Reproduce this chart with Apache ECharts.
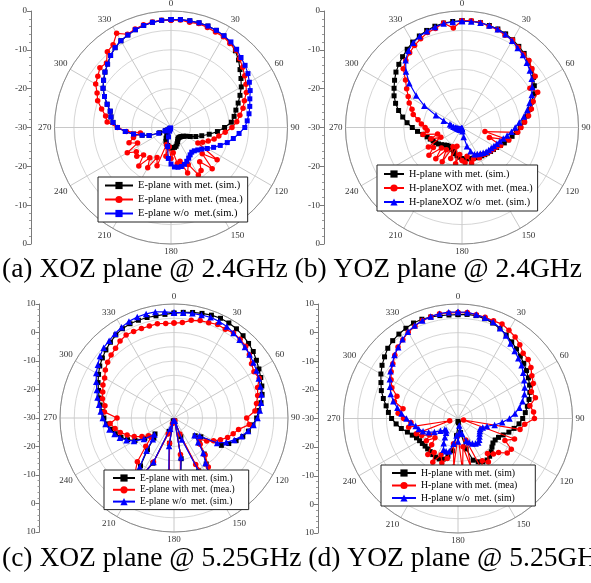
<!DOCTYPE html>
<html><head><meta charset="utf-8">
<script src="https://cdn.jsdelivr.net/npm/echarts@6/dist/echarts.min.js"></script>
<style>html,body{margin:0;padding:0;background:#fff}#c{width:591px;height:583px}</style>
</head><body><div id="c"></div>
<script>
// ---- data (dB vs angle in degrees) ----
const angles = [0,5,10,15,20,25,30,35,40,45,50,55,60,65,70,75,80,85,90,95,100,105,110,115,120,125,130,135,140,145,150,155,160,165,170,175,180,185,190,195,200,205,210,215,220,225,230,235,240,245,250,255,260,265,270,275,280,285,290,295,300,305,310,315,320,325,330,335,340,345,350,355];
const angleTicks = [0,30,60,90,120,150,180,210,240,270,300,330];

// (a) XOZ @ 2.4 GHz
const aBlack = [-2.2,-2.1,-2.1,-2.1,-2.2,-2.4,-2.8,-3.3,-4.2,-5.4,-6.8,-8.0,-9.1,-10.4,-11.6,-12.7,-13.5,-14.4,-16.2,-18.0,-20.0,-21.8,-23.2,-24.5,-25.5,-26.1,-26.4,-26.6,-26.7,-26.7,-26.5,-26.0,-25.5,-25.0,-24.8,-24.7,-24.7,-24.9,-25.3,-25.6,-26.2,-27.0,-27.8,-28.5,-29.2,-29.5,-29.3,-29.0,-28.4,-26.8,-24.0,-22.3,-20.2,-18.2,-16.2,-15.0,-14.3,-13.8,-12.5,-11.1,-9.8,-8.8,-7.8,-6.9,-5.8,-4.9,-4.2,-3.7,-3.2,-2.8,-2.5,-2.3];
const aRed = [-2.4,-2.2,-2.5,-2.3,-2.6,-2.9,-3.0,-3.6,-4.0,-5.0,-5.9,-6.8,-7.7,-8.6,-9.9,-10.8,-12.0,-13.0,-14.3,-16.0,-17.5,-18.5,-19.8,-21.0,-22.0,-15.5,-19.5,-15.0,-18.5,-16.5,-15.9,-19.5,-17.5,-21.0,-20.6,-23.5,-22.0,-25.0,-22.5,-25.5,-19.5,-21.5,-18.0,-20.5,-17.1,-20.0,-18.5,-19.1,-17.0,-20.5,-18.5,-20.0,-22.0,-18.5,-16.2,-13.5,-12.9,-11.5,-9.9,-9.0,-7.6,-7.0,-6.1,-6.5,-4.5,-4.0,-2.0,-3.5,-3.0,-2.6,-2.4,-2.3];
const aBlue = [-2.2,-2.1,-2.1,-2.1,-2.2,-2.4,-2.7,-3.1,-3.7,-4.5,-5.1,-5.8,-6.7,-7.5,-8.4,-9.0,-9.6,-10.3,-11.0,-12.4,-13.7,-15.0,-16.5,-17.9,-19.2,-20.3,-21.0,-21.5,-21.7,-21.4,-20.9,-20.4,-19.9,-19.6,-19.6,-19.8,-20.6,-22.0,-25.0,-27.5,-29.0,-29.5,-29.8,-29.8,-29.7,-29.5,-29.2,-28.8,-28.2,-26.5,-24.0,-22.3,-20.2,-18.2,-16.2,-15.0,-14.3,-13.8,-12.5,-11.1,-9.8,-8.8,-7.8,-6.9,-5.8,-4.9,-4.2,-3.7,-3.2,-2.8,-2.5,-2.3];

// (b) YOZ @ 2.4 GHz
const bBlack = [-2.5,-2.5,-2.6,-2.8,-3.0,-3.4,-3.9,-4.5,-5.1,-5.8,-6.6,-7.5,-8.5,-9.6,-10.9,-12.0,-13.0,-14.0,-15.0,-15.9,-16.9,-17.7,-18.4,-19.1,-19.7,-20.1,-20.4,-20.7,-20.9,-21.1,-21.2,-21.4,-21.6,-21.7,-21.8,-21.8,-22.0,-22.3,-22.6,-23.0,-23.5,-23.8,-24.0,-24.1,-24.0,-23.6,-23.1,-22.6,-22.2,-21.8,-21.3,-20.7,-19.8,-18.5,-17.2,-15.8,-14.5,-13.1,-11.8,-10.7,-9.8,-8.8,-7.8,-7.0,-6.2,-5.4,-4.6,-4.0,-3.4,-3.0,-2.7,-2.6];
const bRed = [-2.5,-2.4,-2.6,-3.0,-3.2,-3.8,-4.0,-4.8,-5.4,-5.6,-6.5,-7.0,-9.8,-8.5,-10.5,-11.5,-12.6,-13.8,-14.8,-15.6,-24.0,-17.5,-22.5,-19.0,-19.8,-20.2,-20.5,-20.8,-21.0,-21.5,-21.0,-22.0,-21.4,-20.5,-22.5,-20.9,-21.5,-23.0,-20.5,-25.0,-21.5,-24.5,-19.8,-23.0,-19.5,-22.5,-18.9,-21.0,-20.0,-24.0,-21.5,-23.5,-19.8,-21.0,-20.5,-19.5,-18.5,-17.0,-16.3,-15.0,-14.0,-12.6,-11.0,-8.6,-7.5,-6.5,-5.6,-4.8,-4.0,-3.6,-2.7,-4.3];
const bBlue = [-2.6,-2.6,-2.6,-2.8,-3.1,-3.5,-4.2,-5.0,-5.6,-6.4,-7.2,-8.1,-9.1,-10.2,-11.5,-12.6,-13.8,-15.2,-16.3,-17.2,-18.2,-19.0,-19.6,-20.1,-20.5,-20.8,-21.0,-21.2,-21.5,-21.8,-22.1,-22.4,-23.5,-25.0,-27.5,-29.0,-29.6,-29.8,-29.9,-29.8,-29.7,-29.6,-29.5,-29.5,-29.4,-29.4,-29.3,-29.3,-29.2,-29.1,-29.0,-28.9,-28.8,-28.6,-28.3,-27.8,-27.2,-26.8,-25.0,-22.6,-18.8,-15.6,-12.3,-9.6,-7.4,-5.9,-4.8,-4.1,-3.6,-3.2,-2.8,-2.7];

// (c) XOZ @ 5.25 GHz
const cBlack = [6.8,7.2,7.6,8.0,8.4,8.6,8.5,8.2,7.7,7.0,6.3,5.3,4.4,3.6,2.8,2.0,1.0,-0.1,-1.0,-2.2,-3.5,-5.0,-6.8,-8.8,-10.8,-18.5,-20.3,-17.5,-13.5,-10.3,-3.5,-9.5,-23.0,-29.0,-15.5,-4.5,-3.5,-10.0,-21.0,-29.0,-25.0,-12.5,-4.0,-9.5,-15.5,-20.0,-21.3,-17.5,-14.2,-12.0,-10.2,-8.7,-7.4,-6.3,-5.4,-4.6,-3.7,-2.8,-1.8,-0.6,0.6,1.8,2.8,3.8,4.7,5.6,6.2,6.5,6.5,6.5,6.4,6.5];
const cRed = [3.3,3.6,4.8,5.4,5.6,6.2,6.0,6.4,6.1,5.6,4.5,3.2,2.4,3.0,1.2,0.4,-0.6,-1.5,-4.5,-3.5,-7.0,-8.5,-10.0,-12.0,-14.0,-16.0,-18.5,-17.0,-13.0,-9.0,-4.0,-12.0,-24.0,-29.0,-17.0,-5.0,-4.5,-11.0,-21.0,-28.0,-24.0,-13.0,-4.5,-6.0,-10.0,-16.0,-19.5,-19.1,-17.0,-14.6,-12.5,-10.5,-9.0,-7.5,-10.0,-5.5,-5.4,-4.0,-3.4,-2.5,-1.9,-0.6,0.4,1.2,1.9,3.0,3.6,3.5,3.4,3.4,3.6,3.3];
const cBlue = [7.0,7.1,7.3,7.4,7.6,7.4,7.1,6.4,5.8,5.2,4.6,4.0,3.4,2.8,2.3,1.8,1.0,0.2,-0.7,-2.0,-3.6,-5.4,-7.5,-9.8,-12.5,-19.0,-20.6,-18.0,-14.0,-10.7,-3.0,-9.0,-22.0,-29.0,-16.0,-4.0,-3.0,-9.5,-20.0,-29.0,-26.0,-13.0,-3.5,-9.0,-15.0,-19.5,-21.0,-17.1,-13.8,-11.6,-9.8,-8.4,-7.0,-5.9,-5.0,-4.2,-3.3,-2.2,-1.2,0.1,1.5,2.6,3.9,4.9,5.4,6.1,6.8,7.4,7.7,7.8,7.8,7.4];

// (d) YOZ @ 5.25 GHz
const dBlack = [6.3,6.5,6.5,6.1,5.5,4.7,3.7,2.7,1.8,0.8,0.0,-0.8,-1.6,-2.4,-3.3,-4.3,-5.4,-6.4,-7.4,-8.6,-10.1,-11.6,-13.2,-14.4,-15.0,-15.1,-14.5,-13.6,-12.8,-12.3,-12.6,-13.3,-14.5,-19.0,-25.0,-28.5,-29.0,-24.0,-18.5,-16.4,-14.9,-14.4,-14.4,-14.6,-14.9,-15.0,-15.0,-14.8,-14.5,-14.0,-13.0,-11.7,-9.9,-8.3,-6.8,-5.6,-4.5,-3.0,-1.5,-0.3,1.1,2.4,3.5,4.7,5.5,6.0,6.4,6.8,6.9,6.7,6.5,6.3];
const dRed = [7.0,7.2,6.8,6.6,6.3,6.4,5.6,4.8,3.6,2.2,2.0,1.1,-0.2,-1.0,-2.7,-2.0,-4.5,-3.5,-3.3,-6.6,-8.0,-28.0,-9.0,-11.9,-8.5,-9.0,-11.5,-12.5,-14.0,-11.5,-13.0,-10.5,-22.0,-12.0,-20.0,-11.5,-24.0,-13.0,-21.0,-15.5,-13.5,-16.0,-12.4,-15.5,-13.6,-17.0,-19.5,-16.5,-18.5,-16.0,-14.5,-27.0,-12.5,-13.5,-11.0,-9.0,-10.5,-7.0,-7.3,-4.5,-3.0,-1.5,-0.3,1.2,2.6,3.6,4.8,5.6,6.4,6.8,7.2,7.0];
const dBlue = [7.2,7.2,6.9,6.4,5.9,4.8,3.5,2.0,0.8,-0.2,-1.0,-2.2,-3.3,-4.3,-5.3,-6.7,-8.2,-10.0,-12.0,-14.5,-17.0,-19.5,-20.8,-21.5,-21.2,-20.8,-20.2,-19.5,-19.0,-19.3,-19.9,-20.8,-21.6,-24.5,-27.5,-25.0,-22.0,-24.0,-21.0,-18.2,-17.8,-18.0,-20.0,-22.0,-23.5,-24.2,-24.0,-22.5,-20.5,-18.7,-17.0,-15.8,-15.0,-13.5,-12.0,-10.2,-8.5,-6.6,-5.0,-3.8,-2.5,-1.2,-0.1,1.4,2.5,3.8,5.0,5.8,6.4,6.9,7.2,7.3];

const namesA = ['E-plane with met. (sim.)','E-plane with met. (mea.)','E-plane w/o  met.(sim.)'];
const namesB = ['H-plane with met. (sim.)','H-planeXOZ with met. (mea.)','H-planeXOZ w/o  met. (sim.)'];
const namesC = ['E-plane with met. (sim.)','E-plane with met. (mea.)','E-plane w/o  met. (sim.)'];
const namesD = ['H-plane with met. (sim)','H-plane with met. (mea)','H-plane w/o  met. (sim)'];

const captionTop = '(a) XOZ plane @ 2.4GHz (b) YOZ plane @ 2.4GHz';
const captionBottom = '(c) XOZ plane @ 5.25GHz (d) YOZ plane @ 5.25GHz';

// ---- layout ----
const SERIF = 'Liberation Serif';
const panels = [
  {center:[171,127.5], r:116.5, min:-30, max:0, names:namesA, data:[aBlack,aRed,aBlue], blueSym:'rect',
   ax:{x:31, top:11, h:233}, lg:{left:98, top:177, gap:3, iw:28, fs:10.5, pad:[3,5,3,6]}},
  {center:[462,127.5], r:116.5, min:-30, max:0, names:namesB, data:[bBlack,bRed,bBlue], blueSym:'triangle',
   ax:{x:324, top:11, h:233}, lg:{left:377, top:165, gap:4, iw:20, fs:10.2, pad:[4,5,4,6]}},
  {center:[174,418], r:114, min:-30, max:10, names:namesC, data:[cBlack,cRed,cBlue], blueSym:'triangle',
   ax:{x:39.5, top:304, h:228}, lg:{left:104, top:470, gap:1.8, iw:22, fs:9.5, pad:[3,14,3,8]}},
  {center:[458,418.5], r:114.5, min:-30, max:10, names:namesD, data:[dBlack,dRed,dBlue], blueSym:'triangle',
   ax:{x:318, top:304, h:229}, lg:{left:381, top:465, gap:2.5, iw:24, fs:9.8, pad:[3,18,3,10]}}
];
const COLORS = ['#000000','#ff0000','#0000ff'];

const polar=[], angleAxis=[], radiusAxis=[], grid=[], xAxis=[], yAxis=[], series=[], legend=[];
panels.forEach((p,i)=>{
  polar.push({center:p.center, radius:p.r});
  angleAxis.push({polarIndex:i, type:'value', min:0, max:360, interval:30, startAngle:90, clockwise:true,
    axisLine:{lineStyle:{color:'#8c8c8c', width:1}},
    axisTick:{show:false},
    axisLabel:{margin:3, fontFamily:SERIF, fontSize:9, color:'#333', formatter:v=> v>=360?'':String(v)},
    splitLine:{show:true, lineStyle:{color:'#c8c8c8', width:1}}});
  radiusAxis.push({polarIndex:i, type:'value', min:p.min, max:p.max, interval:5,
    axisLine:{show:false}, axisTick:{show:false}, axisLabel:{show:false},
    splitLine:{show:true, lineStyle:{color:'#d6d6d6', width:1}}});
  const half = p.max - p.min;
  grid.push({left:p.ax.x, top:p.ax.top, width:1, height:p.ax.h});
  xAxis.push({gridIndex:i, type:'value', show:false, min:0, max:1});
  yAxis.push({gridIndex:i, type:'value', min:-half, max:half, interval:10,
    axisLine:{show:true, lineStyle:{color:'#7a7a7a'}},
    axisTick:{show:true, length:4, lineStyle:{color:'#7a7a7a'}},
    minorTick:{show:true, splitNumber:5, length:2, lineStyle:{color:'#9a9a9a'}},
    splitLine:{show:false},
    axisLabel:{margin:4, fontFamily:SERIF, fontSize:9, color:'#333', formatter:v=> String(Math.abs(v)+p.min)}});
  const syms = ['rect','circle',p.blueSym];
  const sizes = [5,5.5,p.blueSym==='triangle'?6.5:5];
  p.data.forEach((arr,k)=>{
    const d = arr.map((v,j)=>[v, angles[j]]);
    d.push([arr[0], 360]);
    series.push({type:'line', name:p.names[k], coordinateSystem:'polar', polarIndex:i,
      data:d, symbol:syms[k], symbolSize:sizes[k], showSymbol:true, showAllSymbol:true,
      lineStyle:{color:COLORS[k], width:1.2}, itemStyle:{color:COLORS[k]},
      animation:false, z:2+k});
  });
  legend.push({data:p.names, orient:'vertical', left:p.lg.left, top:p.lg.top,
    itemWidth:p.lg.iw, itemHeight:9, itemGap:p.lg.gap, padding:p.lg.pad,
    backgroundColor:'#fff', borderColor:'#222', borderWidth:1, borderRadius:0,
    selectedMode:false, z:10,
    textStyle:{fontFamily:SERIF, fontSize:p.lg.fs, color:'#000'}});
});

const chart = echarts.init(document.getElementById('c'), null, {renderer:'canvas'});
chart.setOption({
  backgroundColor:'#fff',
  animation:false,
  title:[
    {text:captionTop, left:2, top:256, padding:0, textStyle:{fontFamily:SERIF, fontSize:27.5, fontWeight:'normal', color:'#000'}},
    {text:captionBottom, left:2, top:545, padding:0, textStyle:{fontFamily:SERIF, fontSize:27.5, fontWeight:'normal', color:'#000'}}
  ],
  polar, angleAxis, radiusAxis, grid, xAxis, yAxis, legend, series
});
</script></body></html>
